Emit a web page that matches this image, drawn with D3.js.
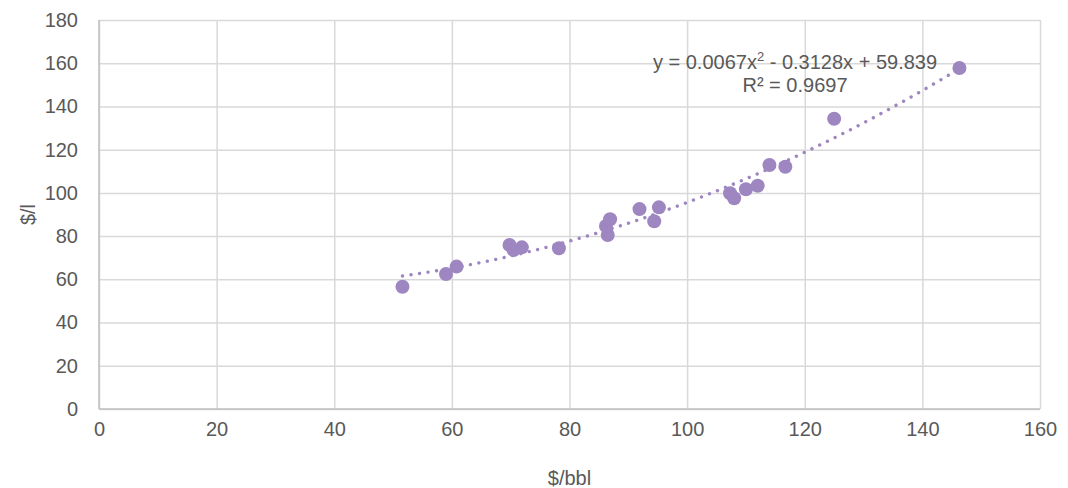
<!DOCTYPE html>
<html>
<head>
<meta charset="utf-8">
<script src="https://cdn.jsdelivr.net/npm/d3@7"></script>
<style>
  html, body { margin: 0; padding: 0; background: #ffffff; }
  svg { display: block; font-family: "Liberation Sans", Arial, sans-serif; }
</style>
</head>
<body>
<svg id="chart" width="1068" height="488"></svg>
<script>
// Crude oil price ($/bbl) against product price ($/l)
const crudePrice = [51.6, 59.0, 60.8, 69.8, 70.5, 71.9, 78.2, 86.5, 86.2, 86.9, 91.9,
                    94.4, 95.2, 107.3, 108.0, 110.0, 112.0, 114.0, 116.7, 125.0, 146.3];
const productPrice = [56.6, 62.5, 65.9, 75.9, 73.6, 74.8, 74.4, 80.5, 84.7, 87.8, 92.5,
                      86.9, 93.3, 99.8, 97.5, 101.7, 103.3, 112.9, 112.1, 134.3, 157.8];

// Polynomial (order 2) trendline coefficients: a·x² + b·x + c
const trendCoeffs = [0.0067, -0.3128, 59.839];
const rSquared = 0.9697;

const xTicks = [0, 20, 40, 60, 80, 100, 120, 140, 160];
const yTicks = [0, 20, 40, 60, 80, 100, 120, 140, 160, 180];

const svg = d3.select("#chart");
const margin = { left: 99, right: 28, top: 20, bottom: 79 };
const W = 1068, H = 488;

const x = d3.scaleLinear().domain([0, 160]).range([margin.left, W - margin.right]);
const y = d3.scaleLinear().domain([0, 180]).range([H - margin.bottom, margin.top]);

const gridColor = "#d9d9d9";
const textColor = "#595959";
const purple = "#9e86c0";

// Gridlines
svg.append("g")
  .attr("transform", `translate(0,${y(0)})`)
  .call(d3.axisBottom(x).tickValues(xTicks).tickSize(-(y(0) - y(180))).tickFormat(""))
  .call(g => g.select(".domain").remove())
  .call(g => g.selectAll("line").attr("stroke", gridColor).attr("stroke-width", 1.5));

svg.append("g")
  .attr("transform", `translate(${x(0)},0)`)
  .call(d3.axisLeft(y).tickValues(yTicks).tickSize(-(x(160) - x(0))).tickFormat(""))
  .call(g => g.select(".domain").remove())
  .call(g => g.selectAll("line").attr("stroke", gridColor).attr("stroke-width", 1.5));

// Axis lines
svg.append("line")
  .attr("x1", x(0)).attr("x2", x(160)).attr("y1", y(0)).attr("y2", y(0))
  .attr("stroke", "#bfbfbf").attr("stroke-width", 1.5);
svg.append("line")
  .attr("x1", x(0)).attr("x2", x(0)).attr("y1", y(0)).attr("y2", y(180))
  .attr("stroke", "#bfbfbf").attr("stroke-width", 1.5);

// Tick labels
const xAxis = svg.append("g")
  .attr("transform", `translate(0,${y(0)})`)
  .call(d3.axisBottom(x).tickValues(xTicks).tickSize(0).tickPadding(13));
xAxis.select(".domain").remove();
xAxis.selectAll("text")
  .attr("font-size", 20).attr("fill", textColor)
  .attr("font-family", "Liberation Sans, Arial, sans-serif");

const yAxis = svg.append("g")
  .attr("transform", `translate(${x(0)},0)`)
  .call(d3.axisLeft(y).tickValues(yTicks).tickSize(0).tickPadding(21));
yAxis.select(".domain").remove();
yAxis.selectAll("text")
  .attr("font-size", 20).attr("fill", textColor)
  .attr("font-family", "Liberation Sans, Arial, sans-serif");

// Axis titles
svg.append("text")
  .attr("x", (x(0) + x(160)) / 2).attr("y", 485)
  .attr("text-anchor", "middle").attr("font-size", 20).attr("fill", textColor)
  .text("$/bbl");

svg.append("text")
  .attr("transform", `translate(35,${(y(0) + y(180)) / 2}) rotate(-90)`)
  .attr("text-anchor", "middle").attr("font-size", 20).attr("fill", textColor)
  .text("$/l");

// Trendline over the data range
const [a, b, c] = trendCoeffs;
const xMin = d3.min(crudePrice), xMax = d3.max(crudePrice);
const trendPts = d3.range(0, 101).map(i => {
  const xv = xMin + (xMax - xMin) * i / 100;
  return [xv, a * xv * xv + b * xv + c];
});
svg.append("path")
  .datum(trendPts)
  .attr("d", d3.line().x(d => x(d[0])).y(d => y(d[1])))
  .attr("fill", "none")
  .attr("stroke", purple)
  .attr("stroke-width", 3.4)
  .attr("stroke-linecap", "round")
  .attr("stroke-dasharray", "0.01 8.6");

// Data points
svg.append("g")
  .selectAll("circle")
  .data(d3.zip(crudePrice, productPrice))
  .join("circle")
  .attr("cx", d => x(d[0]))
  .attr("cy", d => y(d[1]))
  .attr("r", 7)
  .attr("fill", purple);

// Trendline equation
const eq = svg.append("text")
  .attr("x", 795).attr("y", 69)
  .attr("text-anchor", "middle").attr("font-size", 20).attr("fill", textColor);
eq.append("tspan").text(`y = ${a}x`);
eq.append("tspan").attr("font-size", 13).attr("dy", -8).text("2");
eq.append("tspan").attr("dy", 8).text(` - ${Math.abs(b)}x + ${c}`);

svg.append("text")
  .attr("x", 795).attr("y", 92)
  .attr("text-anchor", "middle").attr("font-size", 20).attr("fill", textColor)
  .text(`R² = ${rSquared}`);
</script>
</body>
</html>
